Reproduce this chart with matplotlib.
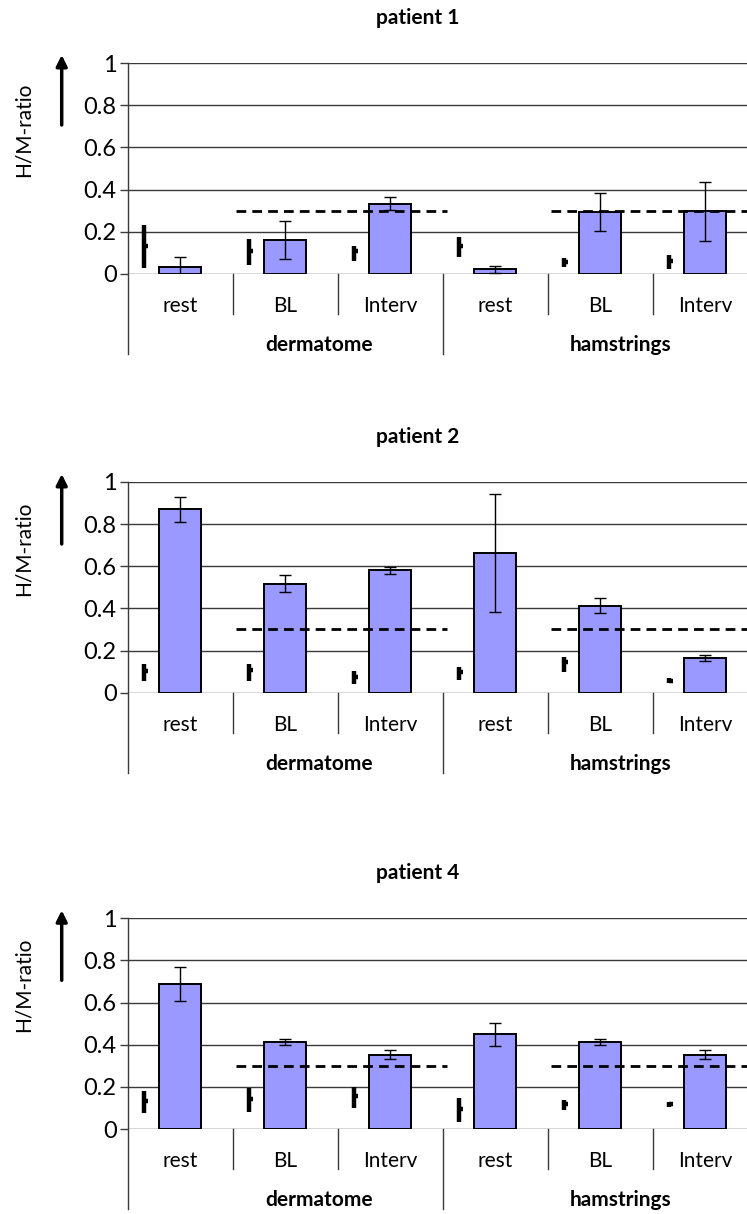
import numpy as np
import matplotlib
matplotlib.use("Agg")
import matplotlib.pyplot as plt

# ------------------------------------------
# data: H/M ratio per condition
# ------------------------------------------
patients = ["patient 1", "patient 2", "patient 4"]
groups = ["dermatome", "hamstrings"]
conditions = ["rest", "BL", "Interv", "rest", "BL", "Interv"]

# bar means and +/- error
hm_mean = [
    [0.035, 0.161, 0.333, 0.022, 0.294, 0.297],
    [0.870, 0.517, 0.580, 0.662, 0.413, 0.165],
    [0.688, 0.414, 0.353, 0.449, 0.414, 0.353],
]
hm_err = [
    [0.047, 0.089, 0.032, 0.015, 0.090, 0.140],
    [0.058, 0.040, 0.015, 0.280, 0.036, 0.015],
    [0.080, 0.015, 0.020, 0.055, 0.015, 0.020],
]

# high-low-mid sticks left of each bar
stick_high = [
    [0.230, 0.167, 0.133, 0.177, 0.074, 0.090],
    [0.136, 0.136, 0.104, 0.123, 0.171, 0.068],
    [0.182, 0.193, 0.201, 0.146, 0.138, 0.130],
]
stick_low = [
    [0.030, 0.043, 0.062, 0.082, 0.035, 0.022],
    [0.057, 0.057, 0.041, 0.060, 0.097, 0.047],
    [0.077, 0.082, 0.098, 0.035, 0.090, 0.106],
]
stick_mid = [
    [0.134, 0.109, 0.110, 0.134, 0.058, 0.063],
    [0.104, 0.108, 0.076, 0.100, 0.144, 0.057],
    [0.134, 0.141, 0.157, 0.094, 0.119, 0.118],
]

ref_level = 0.3
yticks = [0, 0.2, 0.4, 0.6, 0.8, 1]
ytick_labels = ["0", "0.2", "0.4", "0.6", "0.8", "1"]

# ------------------------------------------
# layout (pixels at 100 dpi)
# ------------------------------------------
W, H = 747, 1214
zero_px = [274, 692.7, 1129]
one_px = [63, 482, 918.3]
ax_left, ax_width = 127.7, 630.0
group_x = [1.32, 4.19]

plt.rcParams['font.family'] = ['Lato', 'DejaVu Sans']
BAR_COLOR = "#9999ff"
GRID_COLOR = "#3a3a3a"

fig = plt.figure(figsize=(W / 100, H / 100), dpi=100)

x = np.arange(len(conditions))
for p, name in enumerate(patients):
    h = zero_px[p] - one_px[p]
    ax = fig.add_axes([ax_left / W, (H - zero_px[p]) / H, ax_width / W, h / H])
    ax.set_xlim(-0.5, 5.5)
    ax.set_ylim(0, 1)

    for yv in yticks:
        ax.axhline(yv, color=GRID_COLOR, lw=1.0, zorder=0)

    ax.bar(x, hm_mean[p], width=0.40, color=BAR_COLOR, edgecolor="black",
           linewidth=1.4, zorder=2)
    ax.errorbar(x, hm_mean[p], yerr=hm_err[p], fmt="none", ecolor="black",
                elinewidth=1.0, capsize=4, capthick=1.0, zorder=3)

    xs = x - 0.342
    ax.vlines(xs, stick_low[p], stick_high[p], color="black", lw=3.2, zorder=3)
    ax.hlines(stick_mid[p], xs, xs + 0.035, color="black", lw=3.2, zorder=3)

    # reference level over BL and Interv of each group
    for g in range(2):
        ax.plot([3 * g + 0.53, 3 * g + 2.54], [ref_level, ref_level],
                color="black", lw=2.0, ls=(0, (3.5, 2.2)), zorder=4,
                clip_on=False)

    for s in ax.spines.values():
        s.set_visible(False)
    ax.set_xticks([])
    ax.set_yticks(yticks)
    ax.set_yticklabels(ytick_labels, fontsize=17)
    ax.tick_params(axis="y", length=6, width=1.0, color=GRID_COLOR, pad=2)

    # category axis drawn below the plot
    tr = ax.get_xaxis_transform()
    lo_short = -40 / h
    lo_long = -80 / h
    ax.plot([-0.5, -0.5], [lo_long, 1], color=GRID_COLOR, lw=1.0,
            transform=tr, clip_on=False)
    for b in [0.5, 1.5, 3.5, 4.5]:
        ax.plot([b, b], [lo_short, 0], color=GRID_COLOR, lw=1.0,
                transform=tr, clip_on=False)
    ax.plot([2.5, 2.5], [lo_long, 0], color=GRID_COLOR, lw=1.0,
            transform=tr, clip_on=False)
    for i, c in enumerate(conditions):
        ax.text(i, -32 / h, c, transform=tr, ha="center", va="center",
                fontsize=15)
    for gx, g in zip(group_x, groups):
        ax.text(gx, -71 / h, g, transform=tr, ha="center", va="center",
                fontsize=15, fontweight="bold")

    # title, y label and arrow
    fig.text(417.5 / W, (H - (one_px[p] - 45)) / H, name, ha="center",
             va="center", fontsize=15, fontweight="bold")
    fig.text(24 / W, (H - (one_px[p] + 67)) / H, "H/M-ratio", rotation=90,
             ha="center", va="center", fontsize=15)
    ax.annotate("", xy=(61.7, H - (one_px[p] - 8)),
                xytext=(61.7, H - (one_px[p] + 62)),
                xycoords="figure pixels", textcoords="figure pixels",
                arrowprops=dict(arrowstyle="-|>", lw=2.5, color="black",
                                mutation_scale=16, shrinkA=0, shrinkB=0))

fig.savefig("out.png", dpi=100)
